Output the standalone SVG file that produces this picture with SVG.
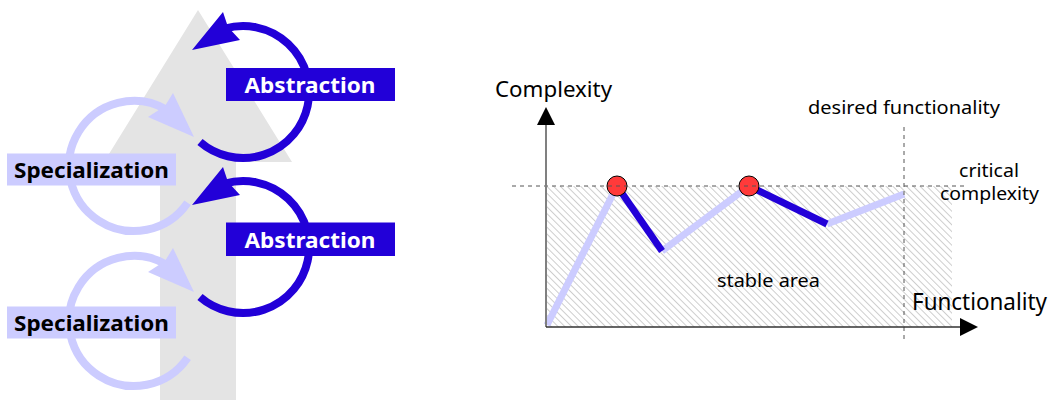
<svg xmlns="http://www.w3.org/2000/svg" width="1050" height="400" viewBox="0 0 1050 400">
  <style>
    .lbl { font-family: "Noto Sans", "Open Sans", "Liberation Sans", sans-serif; font-weight: bold; font-size: 22px; }
    .txt { font-family: "Noto Sans", "Open Sans", "Liberation Sans", sans-serif; fill: #000; }
    .darc { fill: none; stroke: #2200d8; stroke-width: 8; }
    .larc { fill: none; stroke: #ccccff; stroke-width: 8; }
    .dhead { fill: #2200d8; }
    .lhead { fill: #ccccff; }
    .dash { stroke: #555; stroke-width: 1; stroke-dasharray: 4 4; fill: none; }
    .seg-l { stroke: #ccccff; stroke-width: 7; }
    .seg-d { stroke: #2200d8; stroke-width: 7; }
  </style>
  <defs>
    <pattern id="hatch" patternUnits="userSpaceOnUse" width="4.8" height="4.8" patternTransform="rotate(-45)">
      <line x1="0.5" y1="0" x2="0.5" y2="4.8" stroke="#cdcdcd" stroke-width="1"/>
    </pattern>
  </defs>

  <!-- big grey arrow -->
  <g id="grey-arrow">
    <polygon points="198,10 292,162 236,162 236,400 160,400 160,162 104,162" fill="#e4e4e4"/>
  </g>

  <g id="connectors">
    <!-- specialization loops -->
    <path class="larc" d="M 187.6,202.7 A 65 65 0 1 1 166.5,109.7"/>
    <polygon class="lhead" points="194,137 173,93 165,106 148,117"/>
    <path class="larc" d="M 187.6,357.7 A 65 65 0 1 1 166.5,264.7"/>
    <polygon class="lhead" points="194,292 173,248 165,261 148,272"/>
    <!-- abstraction loops -->
    <path class="darc" d="M 200,142 A 66 66 0 1 0 224.8,28.6"/>
    <polygon class="dhead" points="192,50 223,12 228,27 240,40"/>
    <path class="darc" d="M 200,297 A 66 66 0 1 0 224.8,183.6"/>
    <polygon class="dhead" points="192,205 223,167 228,182 240,195"/>
  </g>

  <g id="abstraction-1">
    <rect x="226" y="68" width="169" height="33" fill="#2200d8"/>
    <text class="lbl" x="310" y="93" fill="#fff" text-anchor="middle" textLength="131" lengthAdjust="spacingAndGlyphs">Abstraction</text>
  </g>
  <g id="abstraction-2">
    <rect x="226" y="222.5" width="169" height="33.5" fill="#2200d8"/>
    <text class="lbl" x="310" y="248" fill="#fff" text-anchor="middle" textLength="131" lengthAdjust="spacingAndGlyphs">Abstraction</text>
  </g>
  <g id="specialization-1">
    <rect x="7" y="153.5" width="169" height="32" fill="#ccccff"/>
    <text class="lbl" x="91.5" y="178" fill="#000" text-anchor="middle" textLength="155" lengthAdjust="spacingAndGlyphs">Specialization</text>
  </g>
  <g id="specialization-2">
    <rect x="7" y="306.5" width="169" height="32" fill="#ccccff"/>
    <text class="lbl" x="91.5" y="331" fill="#000" text-anchor="middle" textLength="155" lengthAdjust="spacingAndGlyphs">Specialization</text>
  </g>

  <!-- chart -->
  <g id="chart">
    <rect x="546" y="186" width="406" height="141" fill="url(#hatch)"/>
    <line class="seg-l" x1="547" y1="325" x2="617" y2="186"/>
    <line class="seg-l" x1="662" y1="251" x2="749" y2="186"/>
    <line class="seg-l" x1="827" y1="224" x2="904" y2="194"/>
    <line class="seg-d" x1="617" y1="186" x2="662" y2="251"/>
    <line class="seg-d" x1="749" y1="186" x2="827" y2="224"/>
    <circle cx="617" cy="186" r="10" fill="#ff3a3a" stroke="#000" stroke-width="1"/>
    <circle cx="749" cy="186" r="10" fill="#ff3a3a" stroke="#000" stroke-width="1"/>
    <line class="dash" x1="512" y1="186" x2="965" y2="186"/>
    <line class="dash" x1="904" y1="127" x2="904" y2="341"/>
    <line x1="546" y1="124" x2="546" y2="327" stroke="#808080" stroke-width="2"/>
    <polygon points="546,107 537,125 555,125" fill="#000"/>
    <line x1="546" y1="327" x2="961" y2="327" stroke="#333" stroke-width="1.5"/>
    <polygon points="978,327 960,318 960,336" fill="#000"/>
    <text class="txt" x="495" y="97" font-size="21" textLength="117" lengthAdjust="spacingAndGlyphs">Complexity</text>
    <text class="txt" x="912" y="310" font-size="23" textLength="135" lengthAdjust="spacingAndGlyphs">Functionality</text>
    <text class="txt" x="808" y="114" font-size="18" textLength="192" lengthAdjust="spacingAndGlyphs">desired functionality</text>
    <text class="txt" x="959" y="177" font-size="18" textLength="60" lengthAdjust="spacingAndGlyphs">critical</text>
    <text class="txt" x="940" y="200" font-size="18" textLength="99" lengthAdjust="spacingAndGlyphs">complexity</text>
    <text class="txt" x="717" y="287" font-size="18" textLength="103" lengthAdjust="spacingAndGlyphs">stable area</text>
  </g>
</svg>
